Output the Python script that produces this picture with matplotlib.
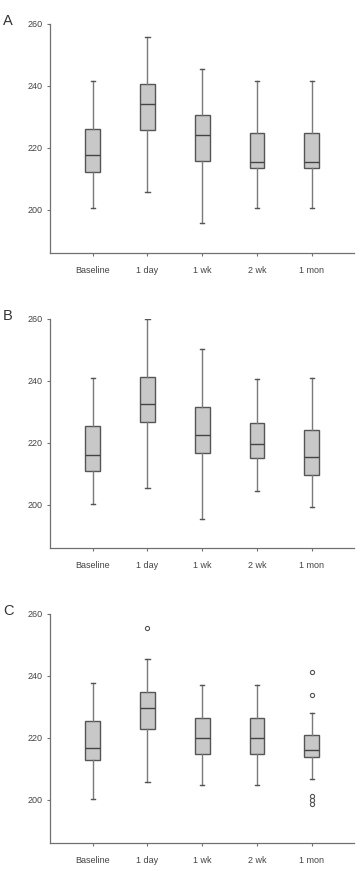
import matplotlib.pyplot as plt

plt.rcParams['font.family'] = ['Liberation Sans', 'DejaVu Sans']

groups = ['Baseline', '1 day', '1 wk', '2 wk', '1 mon']
panels = ['A', 'B', 'C']

# per panel: lower whisker, Q1, median, Q3, upper whisker
whislo = [[200.6, 205.8, 195.7, 200.6, 200.6],
          [200.2, 205.6, 195.3, 204.4, 199.2],
          [200.4, 205.7, 204.7, 204.7, 206.8]]
q1 = [[212.1, 225.8, 215.6, 213.5, 213.5],
      [210.9, 226.6, 216.6, 215.1, 209.7],
      [212.9, 222.8, 214.7, 214.7, 213.7]]
med = [[217.7, 234.1, 224.0, 215.4, 215.4],
       [216.2, 232.6, 222.6, 219.6, 215.5],
       [216.6, 229.5, 219.9, 219.9, 216.2]]
q3 = [[226.1, 240.6, 230.5, 224.6, 224.6],
      [225.3, 241.2, 231.5, 226.3, 224.1],
      [225.5, 234.9, 226.5, 226.5, 221.0]]
whishi = [[241.6, 255.6, 245.4, 241.6, 241.6],
          [240.9, 260.0, 250.1, 240.6, 240.9],
          [237.8, 245.3, 237.0, 237.0, 228.0]]
fliers = [[[], [], [], [], []],
          [[], [], [], [], []],
          [[], [255.4], [], [], [241.2, 233.9, 201.2, 199.9, 198.7]]]

fig = plt.figure(figsize=(3.61, 8.71), dpi=100)
bottoms = [0.7095, 0.3705, 0.0318]

for i, name in enumerate(panels):
    ax = fig.add_axes([0.1385, bottoms[i], 0.842, 0.2635])
    stats = []
    for j, g in enumerate(groups):
        stats.append(dict(label=g, whislo=whislo[i][j], q1=q1[i][j], med=med[i][j],
                          q3=q3[i][j], whishi=whishi[i][j], fliers=fliers[i][j]))
    ax.bxp(stats, widths=0.27, patch_artist=True,
           boxprops=dict(facecolor='#c8c8c8', edgecolor='#555555', linewidth=1),
           medianprops=dict(color='#444444', linewidth=1),
           whiskerprops=dict(color='#7a7a7a', linewidth=1),
           capprops=dict(color='#555555', linewidth=1),
           capwidths=0.08,
           flierprops=dict(marker='o', markersize=3, markerfacecolor='white',
                           markeredgecolor='#555555', markeredgewidth=0.8))
    ax.set_xlim(0.22, 5.77)
    ax.set_ylim(186, 260)
    ax.set_yticks([200, 220, 240, 260])
    for s in ['top', 'right']:
        ax.spines[s].set_visible(False)
    for s in ['left', 'bottom']:
        ax.spines[s].set_color('#707070')
        ax.spines[s].set_linewidth(0.9)
    ax.tick_params(axis='both', colors='#707070', labelcolor='#444444',
                   labelsize=6.5, length=2.5, width=0.8)
    ax.tick_params(axis='x', pad=7)
    ax.tick_params(axis='y', pad=3)
    ax.text(-0.155, 1.01, name, transform=ax.transAxes, fontsize=10.5,
            color='#333333', va='center', ha='left')

fig.savefig('out.png', dpi=100)
